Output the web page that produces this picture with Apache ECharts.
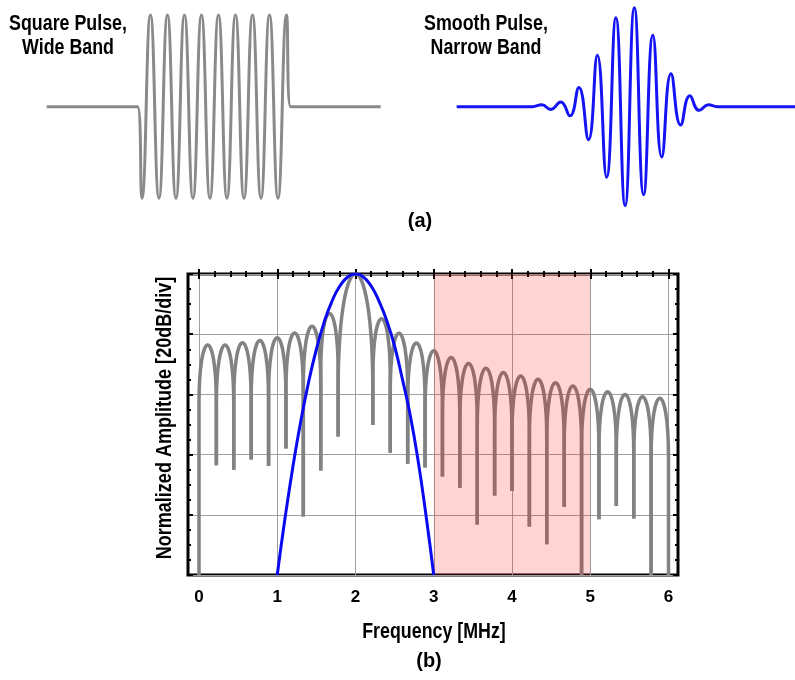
<!DOCTYPE html>
<html>
<head>
    <meta charset="UTF-8">
    <script src="https://cdn.jsdelivr.net/npm/echarts@6/dist/echarts.min.js"></script>
    <style>
        html, body { margin: 0; padding: 0; background: #fff; }
        #main { width: 795px; height: 680px; }
    </style>
</head>
<body>
<div id="main"></div>
<script type="text/javascript">
    // (a) left: square gated burst, time [us] / amplitude (extrema)
    var squareT = [0, 2.67, 2.80, 3.05, 3.30, 3.55, 3.80, 4.05, 4.30, 4.55, 4.80, 5.05, 5.30, 5.55, 5.80, 6.05, 6.30, 6.55, 6.80, 7.05, 7.17, 9.82];
    var squareV = [0, 0, -1, 1, -1, 1, -1, 1, -1, 1, -1, 1, -1, 1, -1, 1, -1, 1, -1, 1, 0, 0];

    // (a) right: smooth (gaussian) burst
    var smoothT = [0, 2.04, 2.30, 2.54, 2.81, 3.06, 3.30, 3.56, 3.80, 4.05, 4.30, 4.55, 4.80, 5.05, 5.30, 5.54, 5.79, 6.05, 6.30, 6.55, 6.80, 7.04, 9.14];
    var smoothV = [0, 0, 0.02, -0.03, 0.05, -0.10, 0.21, -0.36, 0.56, -0.77, 0.97, -1.08, 1.08, -0.96, 0.78, -0.55, 0.36, -0.20, 0.12, -0.04, 0.02, 0, 0];

    // (b) square pulse spectrum: null frequencies [MHz], null depth [dB], lobe peaks [dB]
    var nullFreq = [0, 0.222, 0.444, 0.667, 0.889, 1.111, 1.333, 1.556, 1.778, 2.222, 2.444, 2.667, 2.889, 3.111,
        3.333, 3.556, 3.778, 4.0, 4.222, 4.444, 4.667, 4.889, 5.111, 5.333, 5.556, 5.778, 6.0];
    var nullDb = [-100, -63.5, -65, -61.6, -63.8, -58, -80.6, -65.3, -54, -50.2, -59.4, -63, -64.3, -67.3,
        -71, -83.2, -73.6, -72.1, -83.9, -89.8, -77.3, -100, -81.5, -77.1, -81.2, -100, -100];
    var lobePeakDb = [-23.6, -23.6, -22.8, -22.1, -21.2, -19.6, -17.4, -13.1, 0, -14.9, -19.7, -22.9, -25.5,
        -27.7, -29.7, -31.3, -32.7, -33.9, -35, -36.1, -37.2, -38.3, -39.1, -40, -40.8, -41.3];

    // (b) smooth pulse spectrum
    var smoothFreq = [1.0, 1.1, 1.2, 1.3, 1.4, 1.5, 1.6, 1.7, 1.8, 1.9, 2.0, 2.1, 2.2, 2.3, 2.4, 2.5, 2.6, 2.7, 2.8, 2.9, 3.0];
    var smoothDb = [-100, -81, -64, -49, -36, -25, -16, -9, -4, -1, 0, -1, -4, -9, -15.5, -24, -35, -47, -62, -80, -100];

    var passBand = [3, 5];
    var freqTicks = [0, 6];

    // no narrow face installed: squeeze bold Liberation Sans instead
    var boldFont = "bold 22px 'Liberation Sans', Arial, sans-serif";
    var squeeze = 0.81;

    var squareData = squareT.map(function (t, i) { return [t, squareV[i]]; });
    var smoothData = smoothT.map(function (t, i) { return [t, smoothV[i]]; });
    var lobes = lobePeakDb.map(function (p, i) {
        return [nullFreq[i], nullFreq[i + 1], p, nullDb[i], nullDb[i + 1]];
    });
    var smoothSpec = smoothFreq.map(function (f, i) { return [f, smoothDb[i]]; });

    function renderLobe(params, api) {
        var x0 = api.value(0), x1 = api.value(1);
        var a = api.coord([x0, api.value(3)]);
        var b = api.coord([x1, api.value(4)]);
        var top = api.coord([(x0 + x1) / 2, api.value(2)]);
        var w = b[0] - a[0];
        var yc = top[1] + 1.15 * w;
        var ysL = Math.min(top[1] + 3.4 * w, a[1]);
        var ysR = Math.min(top[1] + 3.4 * w, b[1]);
        var d = 'M' + a[0] + ' ' + a[1] + ' L' + a[0] + ' ' + ysL +
            ' C' + a[0] + ' ' + yc + ' ' + (a[0] + 0.25 * w) + ' ' + top[1] + ' ' + top[0] + ' ' + top[1] +
            ' C' + (b[0] - 0.25 * w) + ' ' + top[1] + ' ' + b[0] + ' ' + yc + ' ' + b[0] + ' ' + ysR +
            ' L' + b[0] + ' ' + b[1];
        return {
            type: 'path',
            shape: {pathData: d},
            style: {fill: 'none', stroke: '#828282', lineWidth: 3.5, lineJoin: 'round'}
        };
    }

    function label(text, x, y, opts) {
        var el = {
            type: 'text', x: x, y: y, scaleX: squeeze,
            style: {text: text, fill: '#000', font: boldFont, align: 'center', verticalAlign: 'middle', lineHeight: 24}
        };
        return Object.assign(el, opts || {});
    }

    var tickStyle = {color: '#000', width: 2};
    var hiddenAxis = {show: false};

    var myChart = echarts.init(document.getElementById('main'));
    var option = {
        backgroundColor: '#fff',
        animation: false,
        grid: [
            {left: 46.7, top: 5.8, width: 334, height: 201.7},
            {left: 456.7, top: 5.8, width: 338.3, height: 201.7},
            {left: 199, top: 274, width: 469.5, height: 301},
            {left: 188, top: 274, width: 490, height: 301, show: true,
                borderColor: '#000', borderWidth: 3, backgroundColor: 'transparent'}
        ],
        xAxis: [
            Object.assign({gridIndex: 0, type: 'value', min: 0, max: 9.82}, hiddenAxis),
            Object.assign({gridIndex: 1, type: 'value', min: 0, max: 9.14}, hiddenAxis),
            {
                gridIndex: 2, type: 'value', min: freqTicks[0], max: freqTicks[1], interval: 1,
                axisLine: {show: false},
                axisTick: {inside: true, length: 5, lineStyle: tickStyle},
                minorTick: {show: true, splitNumber: 5, length: 3, lineStyle: tickStyle},
                axisLabel: {fontFamily: "'Liberation Sans', Arial, sans-serif", fontWeight: 'bold',
                    fontSize: 17, color: '#000', margin: 14},
                splitLine: {show: true, lineStyle: {color: '#a0a0a0', width: 1}}
            },
            {
                gridIndex: 2, type: 'value', position: 'top', min: freqTicks[0], max: freqTicks[1], interval: 1,
                axisLine: {show: false},
                axisTick: {inside: true, length: 5, lineStyle: tickStyle},
                minorTick: {show: true, splitNumber: 5, length: 3, lineStyle: tickStyle},
                axisLabel: {show: false},
                splitLine: {show: false}
            },
            Object.assign({gridIndex: 3, type: 'value', min: 0, max: 1}, hiddenAxis)
        ],
        yAxis: [
            Object.assign({gridIndex: 0, type: 'value', min: -1.1, max: 1.1}, hiddenAxis),
            Object.assign({gridIndex: 1, type: 'value', min: -1.1, max: 1.1}, hiddenAxis),
            Object.assign({gridIndex: 2, type: 'value', min: -100, max: 0}, hiddenAxis),
            {
                gridIndex: 3, type: 'value', min: -100, max: 0, interval: 20,
                axisLine: {show: false},
                axisTick: {inside: true, length: 5, lineStyle: tickStyle},
                minorTick: {show: true, splitNumber: 4, length: 3, lineStyle: tickStyle},
                axisLabel: {show: false},
                splitLine: {show: true, lineStyle: {color: '#a0a0a0', width: 1}}
            },
            {
                gridIndex: 3, type: 'value', position: 'right', min: -100, max: 0, interval: 20,
                axisLine: {show: false},
                axisTick: {inside: true, length: 5, lineStyle: tickStyle},
                minorTick: {show: true, splitNumber: 4, length: 3, lineStyle: tickStyle},
                axisLabel: {show: false},
                splitLine: {show: false}
            }
        ],
        graphic: [
            label('Square Pulse,\nWide Band', 68, 36),
            label('Smooth Pulse,\nNarrow Band', 486, 36),
            label('Normalized Amplitude [20dB/div]', 165, 418, {rotation: Math.PI / 2, scaleX: 0.82}),
            label('Frequency [MHz]', 434, 632),
            {type: 'text', x: 420, y: 221, style: {text: '(a)', fill: '#000',
                    font: "bold 20px 'Liberation Sans', Arial, sans-serif", align: 'center', verticalAlign: 'middle'}},
            {type: 'text', x: 429, y: 661, style: {text: '(b)', fill: '#000',
                    font: "bold 20px 'Liberation Sans', Arial, sans-serif", align: 'center', verticalAlign: 'middle'}}
        ],
        series: [
            {
                type: 'line', xAxisIndex: 0, yAxisIndex: 0, data: squareData, smooth: true,
                showSymbol: false, lineStyle: {color: '#8a8a8a', width: 3}
            },
            {
                type: 'line', xAxisIndex: 1, yAxisIndex: 1, data: smoothData, smooth: true,
                showSymbol: false, lineStyle: {color: '#1414f5', width: 3}
            },
            {
                type: 'custom', xAxisIndex: 2, yAxisIndex: 2, data: lobes, renderItem: renderLobe,
                clip: false, z: 1, encode: {x: [0, 1], y: [2, 3, 4]}
            },
            {
                type: 'line', xAxisIndex: 2, yAxisIndex: 2, data: [], z: 3,
                markArea: {
                    silent: true, z: 3,
                    itemStyle: {color: 'rgba(255, 0, 0, 0.17)'},
                    data: [[{xAxis: passBand[0]}, {xAxis: passBand[1]}]]
                }
            },
            {
                type: 'line', xAxisIndex: 2, yAxisIndex: 2, data: smoothSpec, smooth: true, z: 4,
                showSymbol: false, lineStyle: {color: '#0a0af0', width: 3}
            }
        ]
    };
    myChart.setOption(option);
</script>
</body>
</html>
